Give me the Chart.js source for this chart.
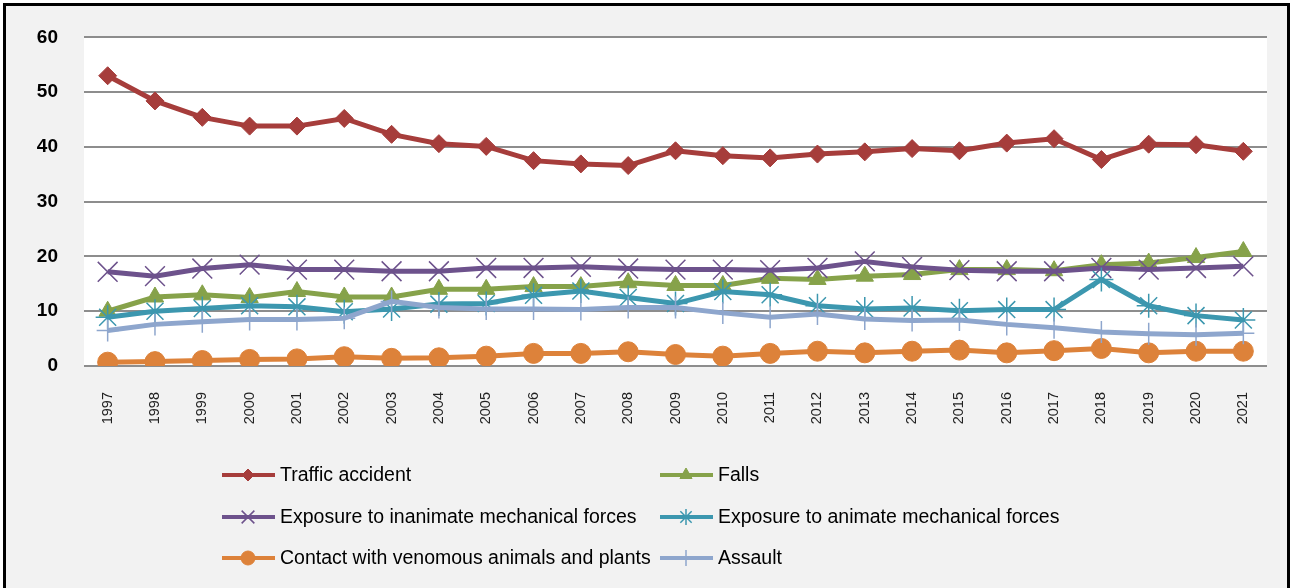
<!DOCTYPE html>
<html lang="en">
<head>
    <meta charset="UTF-8">
    <title>Injury rates by cause, 1997-2021</title>
    <script src="https://cdn.jsdelivr.net/npm/chart.js"></script>
    <style>
        html, body { margin: 0; padding: 0; background: #fff; }
        .frame {
            position: absolute; left: 3px; top: 3px;
            width: 1281px; height: 600px;
            border: 3px solid #000; background: #f2f2f2;
        }
        .chart-box { position: absolute; left: 0; top: 0; width: 1296px; height: 588px; }
    </style>
</head>
<body>
    <div class="frame"></div>
    <div class="chart-box">
        <canvas id="lineChart" width="1296" height="588"></canvas>
    </div>
    <script>
        // Anos (eixo x)
        const anos = ['1997', '1998', '1999', '2000', '2001', '2002', '2003', '2004', '2005',
            '2006', '2007', '2008', '2009', '2010', '2011', '2012', '2013', '2014', '2015',
            '2016', '2017', '2018', '2019', '2020', '2021'];

        // Séries
        const trafficAccident = [53.0, 48.4, 45.4, 43.8, 43.8, 45.2, 42.3, 40.6, 40.1, 37.5, 36.9, 36.6,
            39.3, 38.4, 38.0, 38.7, 39.1, 39.7, 39.3, 40.7, 41.5, 37.7, 40.5, 40.4, 39.2];
        const falls = [10.0, 12.6, 13.0, 12.5, 13.6, 12.6, 12.6, 14.0, 14.0, 14.5, 14.5, 15.2,
            14.7, 14.7, 16.0, 15.8, 16.4, 16.7, 17.6, 17.6, 17.4, 18.5, 18.8, 19.8, 20.9];
        const inanimateForces = [17.2, 16.4, 17.8, 18.5, 17.6, 17.6, 17.3, 17.3, 17.9, 17.9, 18.1, 17.8,
            17.6, 17.6, 17.5, 17.9, 19.1, 18.1, 17.5, 17.3, 17.3, 17.9, 17.6, 17.9, 18.2];
        const animateForces = [8.9, 10.0, 10.5, 11.0, 10.8, 9.9, 10.4, 11.3, 11.4, 12.9, 13.7, 12.5,
            11.4, 13.6, 13.0, 11.0, 10.4, 10.6, 10.1, 10.3, 10.3, 15.8, 11.0, 9.2, 8.4];
        const venomous = [0.7, 0.8, 1.0, 1.2, 1.3, 1.7, 1.4, 1.5, 1.8, 2.3, 2.3, 2.6,
            2.1, 1.8, 2.3, 2.7, 2.4, 2.7, 2.9, 2.4, 2.8, 3.2, 2.4, 2.7, 2.7];
        const assault = [6.5, 7.6, 8.1, 8.5, 8.5, 8.7, 11.8, 10.7, 10.4, 10.4, 10.3, 10.7,
            10.7, 9.7, 8.9, 9.5, 8.6, 8.3, 8.4, 7.6, 7.0, 6.2, 5.9, 5.7, 6.0];

        // Marcas do eixo y
        const yTicks = [0, 10, 20, 30, 40, 50, 60];

        // Séries na ordem da legenda (linha a linha)
        const series = [
            { label: 'Traffic accident', data: trafficAccident, color: '#A63D3B', style: 'rectRot', r: 9, lr: 6, bw: 1 },
            { label: 'Falls', data: falls, color: '#86A24A', style: 'triangle', r: 10, lr: 7, bw: 1 },
            { label: 'Exposure to inanimate mechanical forces', data: inanimateForces, color: '#6D528C', style: 'crossRot', r: 14, lr: 9, bw: 1.5 },
            { label: 'Exposure to animate mechanical forces', data: animateForces, color: '#3C97AF', style: 'star', r: 12, lr: 8, bw: 1.5 },
            { label: 'Contact with venomous animals and plants', data: venomous, color: '#DD823A', style: 'circle', r: 10, lr: 7, bw: 1 },
            { label: 'Assault', data: assault, color: '#8EA6CD', style: 'cross', r: 11, lr: 8, bw: 1.5 }
        ];

        // Fundo branco da área do gráfico
        const plotBackground = {
            id: 'plotBackground',
            beforeDraw(chart) {
                const { ctx, chartArea: a } = chart;
                ctx.save();
                ctx.fillStyle = '#ffffff';
                ctx.fillRect(a.left, a.top, a.right - a.left, a.bottom - a.top);
                ctx.restore();
            }
        };

        // Legenda em duas colunas, desenhada à mão
        const gridLegend = {
            id: 'gridLegend',
            afterDraw(chart) {
                const ctx = chart.ctx;
                const colX = [222, 660];
                const rowY = [475, 517, 558];
                ctx.save();
                series.forEach((s, i) => {
                    const x = colX[i % 2];
                    const y = rowY[Math.floor(i / 2)];
                    ctx.strokeStyle = s.color;
                    ctx.lineWidth = 4;
                    ctx.beginPath();
                    ctx.moveTo(x, y);
                    ctx.lineTo(x + 53, y);
                    ctx.stroke();
                    ctx.fillStyle = s.color;
                    ctx.lineWidth = s.bw;
                    Chart.helpers.drawPoint(ctx, { pointStyle: s.style, radius: s.lr, rotation: 0, borderWidth: s.bw }, x + 26, y);
                    ctx.fillStyle = '#000';
                    ctx.font = '19.5px "Liberation Sans", Arial, sans-serif';
                    ctx.textBaseline = 'middle';
                    ctx.fillText(s.label, x + 58, y + 1);
                });
                ctx.restore();
            }
        };

        new Chart(document.getElementById('lineChart'), {
            type: 'line',
            data: {
                labels: anos,
                datasets: series.map((s, i) => ({
                    label: s.label,
                    data: s.data,
                    borderColor: s.color,
                    backgroundColor: s.color,
                    borderWidth: 5,
                    pointStyle: s.style,
                    pointRadius: s.r,
                    pointBorderWidth: s.bw,
                    pointBorderColor: s.color,
                    pointBackgroundColor: s.color,
                    tension: 0,
                    fill: false,
                    order: series.length - i
                }))
            },
            options: {
                responsive: false,
                animation: false,
                layout: { padding: { top: 33, right: 29, left: 0, bottom: 0 } },
                plugins: {
                    legend: { display: false },
                    tooltip: { enabled: false }
                },
                scales: {
                    x: {
                        offset: true,
                        grid: { display: false, drawTicks: false },
                        border: { display: false },
                        ticks: {
                            minRotation: 90, maxRotation: 90,
                            padding: 26,
                            color: '#222',
                            font: { family: '"Liberation Sans", Arial, sans-serif', size: 14.5 }
                        },
                        afterFit(scale) { scale.height = 222; }
                    },
                    y: {
                        min: 0, max: 60,
                        afterBuildTicks(scale) { scale.ticks = yTicks.map(v => ({ value: v })); },
                        grid: { color: '#8d8d8d', lineWidth: 2, drawTicks: false },
                        border: { display: false },
                        ticks: {
                            padding: 26,
                            color: '#000',
                            font: { family: '"Liberation Sans", Arial, sans-serif', size: 19, weight: 'bold' }
                        },
                        afterFit(scale) { scale.width = 84; }
                    }
                }
            },
            plugins: [plotBackground, gridLegend]
        });
    </script>
</body>
</html>
